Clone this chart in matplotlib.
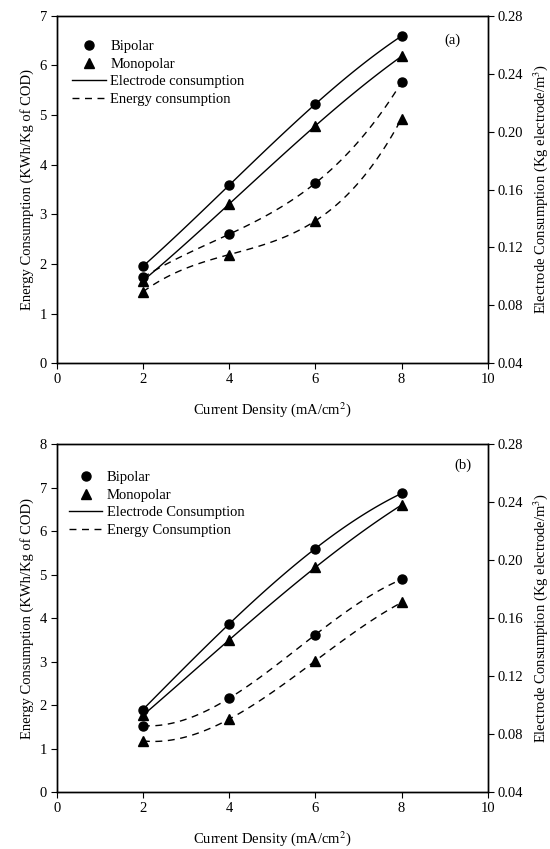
import matplotlib.pyplot as plt
import numpy as np
from matplotlib.lines import Line2D

plt.rcParams['font.family'] = ['Liberation Serif', 'DejaVu Serif']
plt.rcParams['font.size'] = 10.5
plt.rcParams['mathtext.fontset'] = 'stix'

# Current density (mA/cm2)
current_density = [2, 4, 6, 8]

# Panel (a)
a_energy_bipolar = [1.73, 2.60, 3.63, 5.66]
a_energy_monopolar = [1.44, 2.19, 2.87, 4.93]
a_electrode_bipolar = [0.107, 0.163, 0.219, 0.266]
a_electrode_monopolar = [0.097, 0.150, 0.204, 0.252]

# Panel (b)
b_energy_bipolar = [1.53, 2.16, 3.62, 4.89]
b_energy_monopolar = [1.18, 1.68, 3.02, 4.36]
b_electrode_bipolar = [0.097, 0.156, 0.208, 0.246]
b_electrode_monopolar = [0.093, 0.145, 0.195, 0.238]


def smooth(x, y):
    # smooth curve through the measured points (cubic through 4 points)
    coef = np.polyfit(x, y, len(x) - 1)
    xs = np.linspace(min(x), max(x), 100)
    return xs, np.polyval(coef, xs)


def draw_panel(ax, energy_bi, energy_mono, elec_bi, elec_mono, ymax, tag, tag_pos,
               legend_labels, legend_anchor):
    ax2 = ax.twinx()
    ms = 6.5
    for y, m in [(energy_bi, 'o'), (energy_mono, '^')]:
        xs, ys = smooth(current_density, y)
        ax.plot(xs, ys, color='black', lw=1.0, ls=(0, (5, 4)))
        ax.plot(current_density, y, ls='none', marker=m, color='black', ms=ms)
    for y, m in [(elec_bi, 'o'), (elec_mono, '^')]:
        xs, ys = smooth(current_density, y)
        ax2.plot(xs, ys, color='black', lw=1.0)
        ax2.plot(current_density, y, ls='none', marker=m, color='black', ms=ms)

    ax.set_xlim(0, 10)
    ax.set_ylim(0, ymax)
    ax.set_xticks(range(0, 11, 2))
    ax.set_yticks(range(0, ymax + 1))
    ax2.set_ylim(0.04, 0.28)
    ax2.set_yticks(np.arange(0.04, 0.281, 0.04))
    ax2.set_yticklabels(['%.2f' % v for v in np.arange(0.04, 0.281, 0.04)])

    ax.set_xlabel('Current Density (mA/cm$^2$)', labelpad=10)
    ax.set_ylabel('Energy Consumption (KWh/Kg of COD)', labelpad=4)
    ax2.set_ylabel('Electrode Consumption (Kg electrode/m$^3$)', labelpad=6)

    for a in (ax, ax2):
        a.tick_params(direction='out', length=4, width=0.8, pad=3)
        for s in a.spines.values():
            s.set_linewidth(1.0)

    handles = [
        Line2D([], [], ls='none', marker='o', color='black', ms=ms),
        Line2D([], [], ls='none', marker='^', color='black', ms=ms),
        Line2D([], [], color='black', lw=1.0),
        Line2D([], [], color='black', lw=1.0, ls=(0, (5, 4))),
    ]
    ax.legend(handles, legend_labels, loc='upper left', frameon=False,
              bbox_to_anchor=legend_anchor, handlelength=2.3, handletextpad=0.3,
              labelspacing=0.3, borderaxespad=0.2)
    ax.text(tag_pos[0], tag_pos[1], tag, transform=ax.transAxes,
            ha='center', va='center')


fig = plt.figure(figsize=(5.5, 8.49), dpi=100)
ax_a = fig.add_axes([0.103, 0.572, 0.784, 0.4095])
ax_b = fig.add_axes([0.103, 0.0668, 0.784, 0.4102])

draw_panel(ax_a, a_energy_bipolar, a_energy_monopolar, a_electrode_bipolar,
           a_electrode_monopolar, 7, '(a)', (0.918, 0.928),
           ['Bipolar', 'Monopolar', 'Electrode consumption', 'Energy consumption'],
           (0.016, 0.955))
draw_panel(ax_b, b_energy_bipolar, b_energy_monopolar, b_electrode_bipolar,
           b_electrode_monopolar, 8, '(b)', (0.943, 0.94),
           ['Bipolar', 'Monopolar', 'Electrode Consumption', 'Energy Consumption'],
           (0.008, 0.948))

fig.savefig('out.png', dpi=100)
